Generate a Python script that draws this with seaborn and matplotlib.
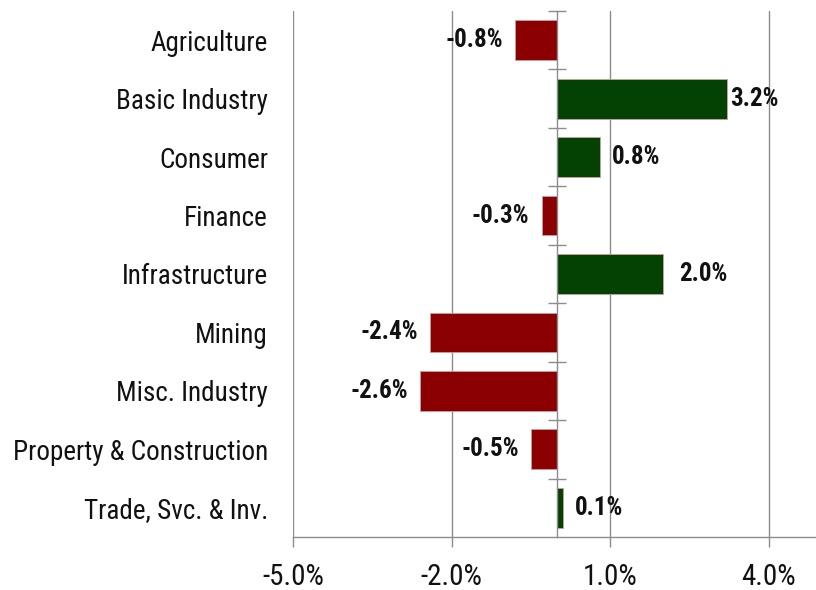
import matplotlib
matplotlib.use("Agg")
import matplotlib.pyplot as plt
from matplotlib import font_manager as fm
from matplotlib.ticker import FixedLocator, FuncFormatter
import seaborn as sns
import pandas as pd

sectors = ["Agriculture", "Basic Industry", "Consumer", "Finance", "Infrastructure",
           "Mining", "Misc. Industry", "Property & Construction", "Trade, Svc. & Inv."]
changes = [-0.8, 3.2, 0.8, -0.3, 2.0, -2.4, -2.6, -0.5, 0.1]
value_labels = ["-0.8%", "3.2%", "0.8%", "-0.3%", "2.0%", "-2.4%", "-2.6%", "-0.5%", "0.1%"]
x_ticks = [-5.0, -2.0, 1.0, 4.0]

RED = "#8B0000"
GREEN = "#034203"

df = pd.DataFrame({"sector": sectors, "change": changes})
df["sign"] = ["pos" if v >= 0 else "neg" for v in changes]

sns.set_theme(style="white")
available = {f.name for f in fm.fontManager.ttflist}
preferred = ["Liberation Sans Narrow", "Arial Narrow", "Roboto Condensed", "Archivo Narrow",
             "PT Sans Narrow", "Pragati Narrow", "DejaVu Sans"]
chosen = next(n for n in preferred if n in available)
plt.rcParams["font.family"] = [chosen, "DejaVu Sans"]
if chosen == "DejaVu Sans":
    plt.rcParams["font.stretch"] = "condensed"

fig = plt.figure(figsize=(8.16, 5.90), dpi=100)
ax = fig.add_axes([293 / 816, 1 - 537 / 590, (816 - 293) / 816, (537 - 11) / 590])

sns.barplot(data=df, y="sector", x="change", hue="sign", order=sectors,
            palette={"pos": GREEN, "neg": RED}, dodge=False, width=0.68,
            saturation=1, legend=False, ax=ax, orient="h")
for p in ax.patches:
    p.set_edgecolor("#c8a0a0")
    p.set_linewidth(0.6)

ax.set_xlim(-5.0, 4.89)
ax.set_ylim(8.5, -0.5)
ax.set_xlabel("")
ax.set_ylabel("")

ax.xaxis.set_major_locator(FixedLocator(x_ticks))
ax.xaxis.set_major_formatter(FuncFormatter(lambda v, _: f"{v:.1f}%"))
ax.grid(axis="x", color="#8c8c8c", linewidth=1.0)
ax.grid(axis="y", visible=False)
ax.set_axisbelow(True)

for s in ["top", "right", "left"]:
    ax.spines[s].set_visible(False)
ax.spines["bottom"].set_color("#8c8c8c")
ax.spines["bottom"].set_linewidth(1.0)

# zero axis with boundary ticks
ax2 = ax.twinx()
ax2.set_ylim(8.5, -0.5)
for s in ["top", "right", "bottom"]:
    ax2.spines[s].set_visible(False)
ax2.spines["left"].set_position(("data", 0))
ax2.spines["left"].set_color("#8c8c8c")
ax2.spines["left"].set_linewidth(1.0)
ax2.yaxis.set_ticks_position("left")
ax2.set_yticks([i - 0.5 for i in range(len(sectors))])
ax2.tick_params(axis="y", direction="inout", length=13, width=1.0, color="#8c8c8c",
                labelleft=False, labelright=False)
ax2.grid(False)

ax.tick_params(axis="x", bottom=True, direction="out", length=7, width=1.0,
               color="#8c8c8c", labelsize=21, pad=12, labelcolor="#111111")
ax.tick_params(axis="y", left=False, right=False, length=0, labelsize=19.5, pad=18,
               labelcolor="#111111")

# value labels
pads = [12, 3, 12, 12, 16, 12, 12, 12, 12]
for i, (v, lab) in enumerate(zip(changes, value_labels)):
    pad = pads[i]
    ax.annotate(lab, xy=(v, i), xytext=(pad if v >= 0 else -pad, 0),
                textcoords="offset pixels", ha="left" if v >= 0 else "right",
                va="center", fontsize=18, fontweight="bold", color="#111111")

fig.savefig("out.png", dpi=100)
